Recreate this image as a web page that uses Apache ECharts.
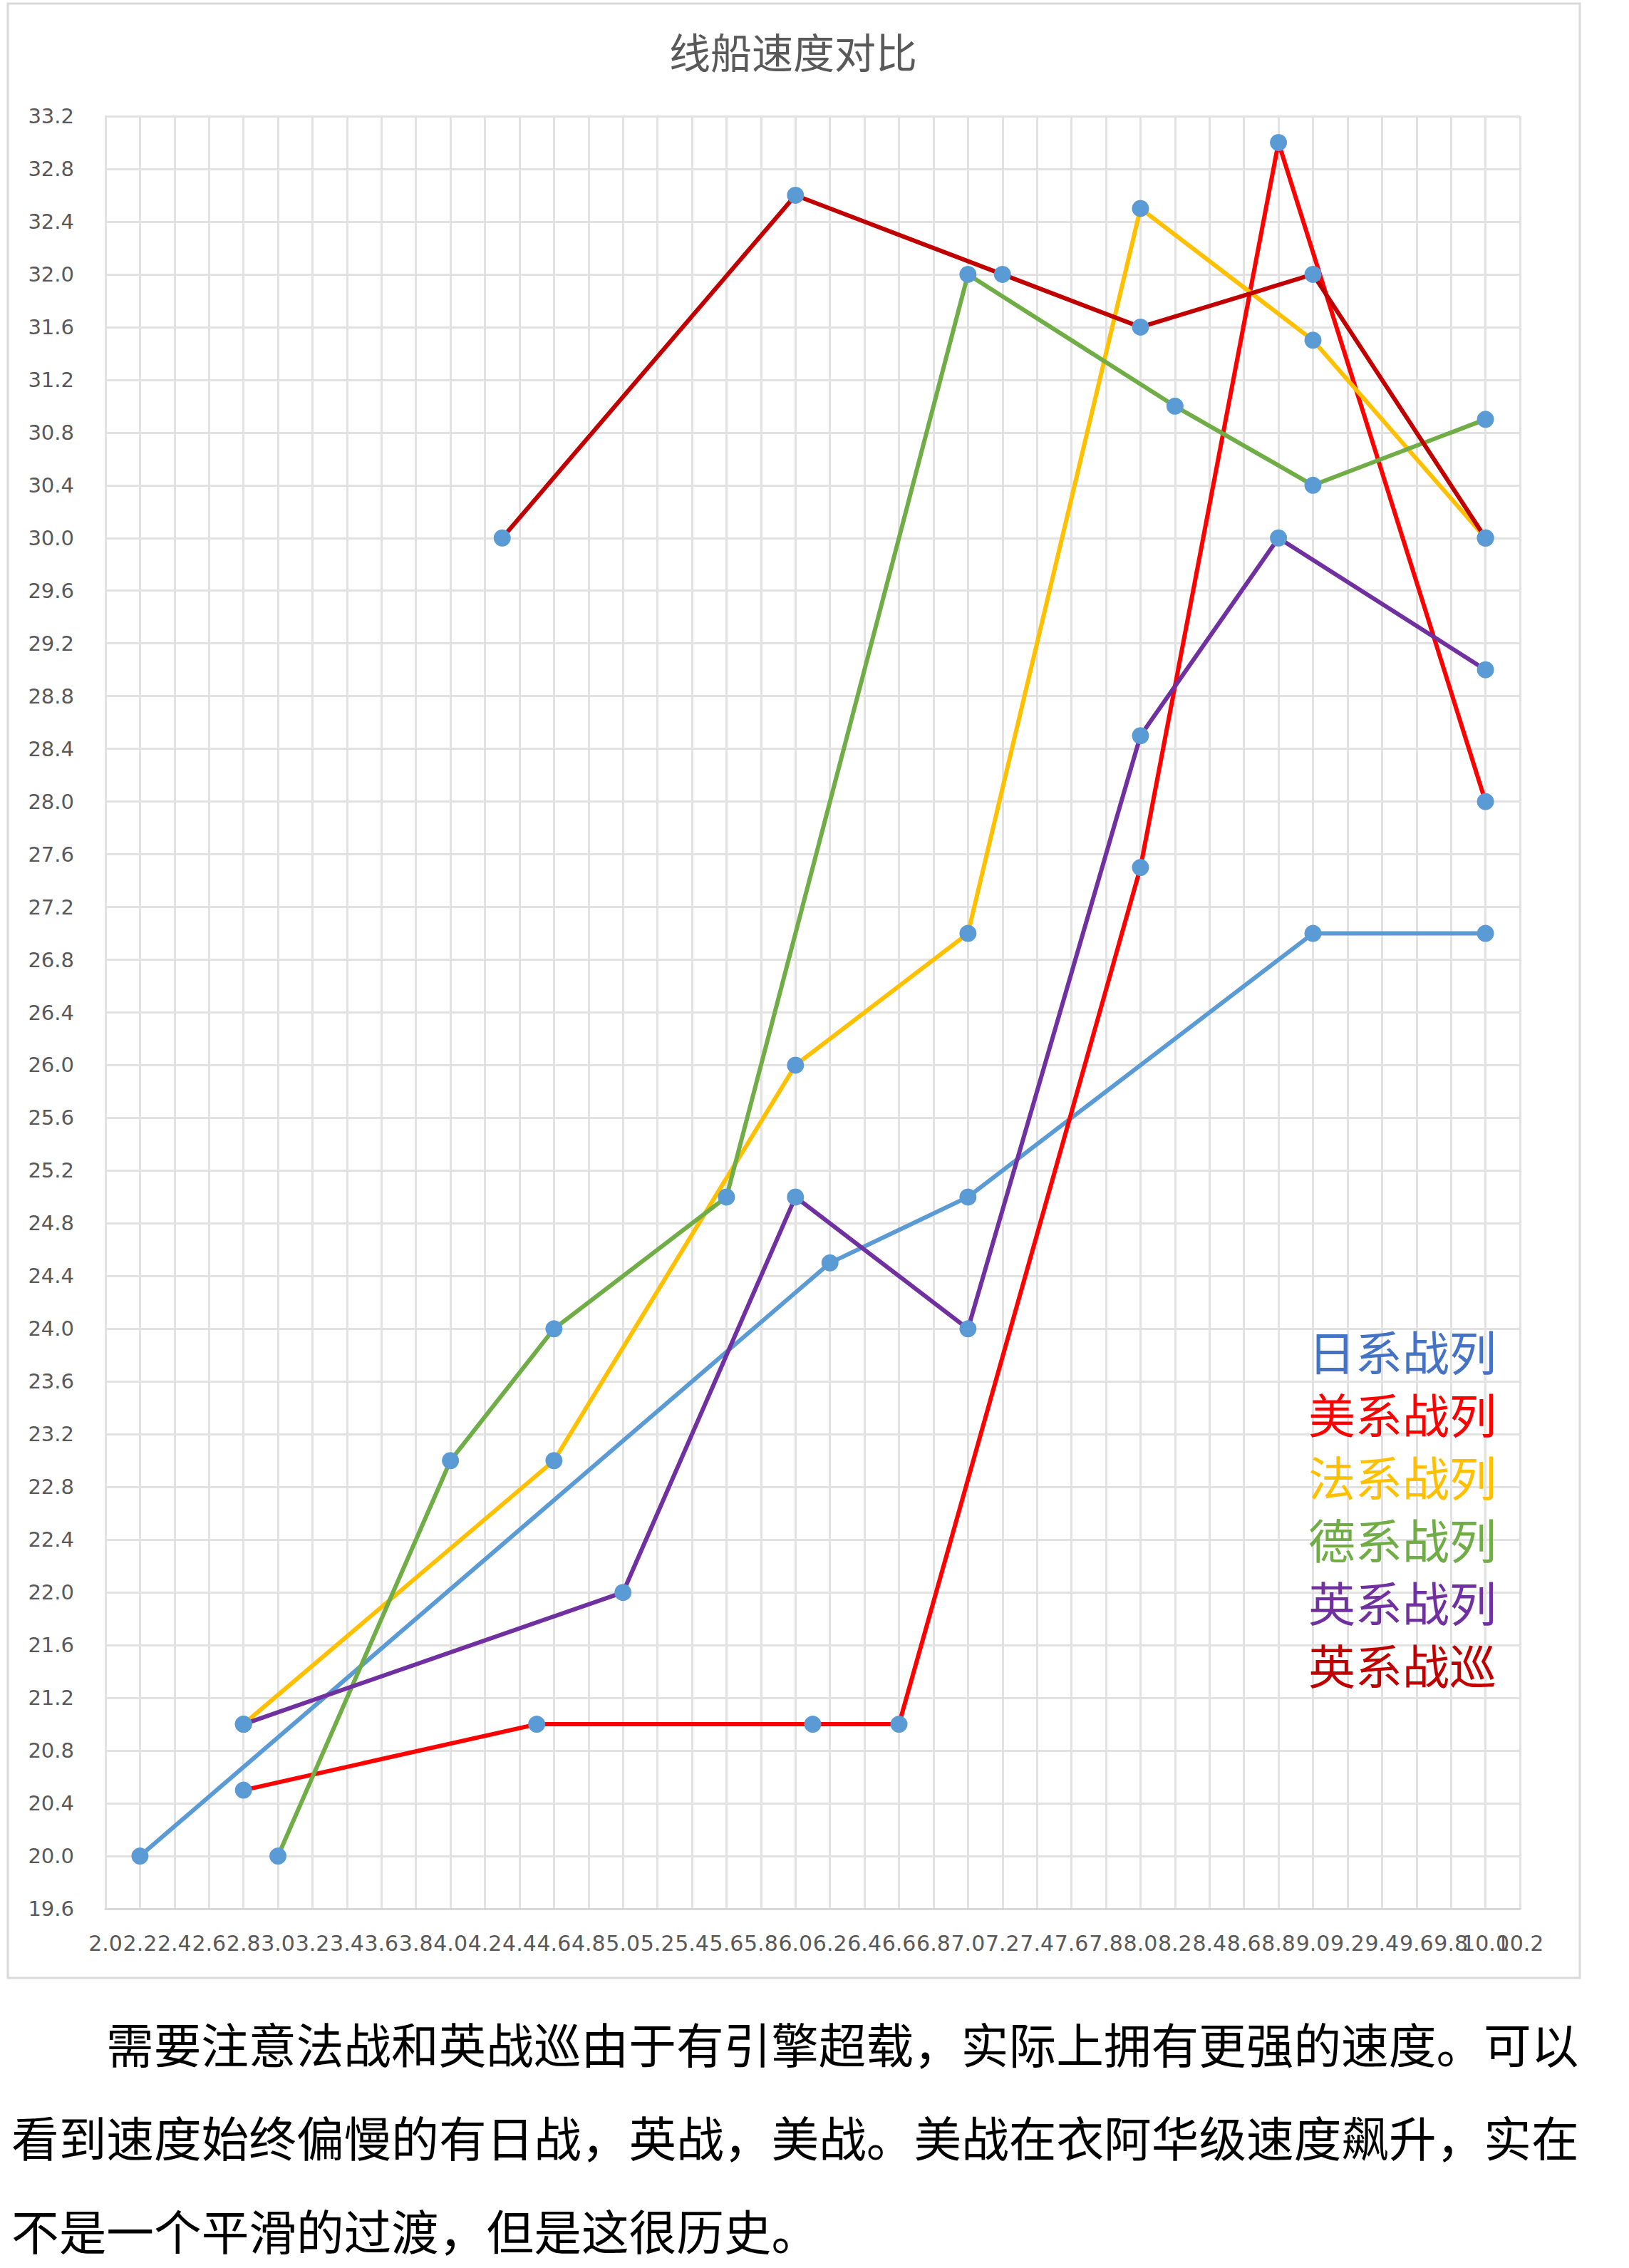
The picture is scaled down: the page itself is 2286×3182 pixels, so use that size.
<!DOCTYPE html>
<html>
<head>
<meta charset="utf-8">
<script src="https://cdn.jsdelivr.net/npm/echarts@6/dist/echarts.min.js"></script>
<style>
  html, body { margin: 0; padding: 0; background: #fff; }
  body { width: 2286px; height: 3182px; position: relative; overflow: hidden; }
  #chart { position: absolute; left: 0; top: 0; width: 2226px; height: 2790px; }
  #para { position: absolute; left: 16px; top: 2801px; font-family: "Noto Sans CJK SC", sans-serif;
          font-size: 66.67px; line-height: 131px; color: #000; white-space: nowrap; }
</style>
</head>
<body>
<div id="chart"></div>
<div id="para"><span style="padding-left:133px"></span>需要注意法战和英战巡由于有引擎超载，实际上拥有更强的速度。可以<br>看到速度始终偏慢的有日战，英战，美战。美战在衣阿华级速度飙升，实在<br>不是一个平滑的过渡，但是这很历史。</div>
<script>
// ---- data ----
const titleText = '线船速度对比';
const seriesNames = ['日系战列', '美系战列', '法系战列', '德系战列', '英系战列', '英系战巡'];

const jpX = [2.2, 6.2, 7.0, 9.0, 10.0];
const jpY = [20.0, 24.5, 25.0, 27.0, 27.0];

const usX = [2.8, 4.5, 6.1, 6.6, 8.0, 8.8, 10.0];
const usY = [20.5, 21.0, 21.0, 21.0, 27.5, 33.0, 28.0];

const frX = [2.8, 4.6, 6.0, 7.0, 8.0, 9.0, 10.0];
const frY = [21.0, 23.0, 26.0, 27.0, 32.5, 31.5, 30.0];

const deX = [3.0, 4.0, 4.6, 5.6, 7.0, 8.2, 9.0, 10.0];
const deY = [20.0, 23.0, 24.0, 25.0, 32.0, 31.0, 30.4, 30.9];

const ukX = [2.8, 5.0, 6.0, 7.0, 8.0, 8.8, 10.0];
const ukY = [21.0, 22.0, 25.0, 24.0, 28.5, 30.0, 29.0];

const ukbcX = [4.3, 6.0, 7.2, 8.0, 9.0, 10.0];
const ukbcY = [30.0, 32.6, 32.0, 31.6, 32.0, 30.0];

const xMin = 2.0, xMax = 10.2, xStep = 0.2;
const yMin = 19.6, yMax = 33.2, yStep = 0.4;

// ---- styles ----
const lineColors = ['#5B9BD5', '#FF0000', '#FFC000', '#70AD47', '#7030A0', '#C00000'];
const legendColors = ['#4472C4', '#FF0000', '#FFC000', '#70AD47', '#7030A0', '#C00000'];
const markerColor = '#5B9BD5';
const gridColor = '#E2E2E2';
const labelStyle = { color: '#595959', fontFamily: '"DejaVu Sans", sans-serif', fontSize: 30, margin: 33 };

const xs = [jpX, usX, frX, deX, ukX, ukbcX];
const ys = [jpY, usY, frY, deY, ukY, ukbcY];

const chart = echarts.init(document.getElementById('chart'), null, { renderer: 'svg' });

const series = seriesNames.map((name, i) => ({
  name: name,
  type: 'line',
  xAxisIndex: 0,
  data: xs[i].map((x, k) => [x, ys[i][k]]),
  symbol: 'circle',
  symbolSize: 24,
  showAllSymbol: true,
  itemStyle: { color: markerColor, borderWidth: 0 },
  lineStyle: { color: lineColors[i], width: 6 },
  emphasis: { disabled: true },
  animation: false
}));

chart.setOption({
  animation: false,
  backgroundColor: 'transparent',
  title: {
    text: titleText,
    left: 'center',
    top: 37,
    textStyle: { fontFamily: '"Noto Sans CJK SC", sans-serif', fontSize: 58, fontWeight: 'normal', color: '#595959' }
  },
  graphic: [{
    type: 'rect',
    shape: { x: 11, y: 5, width: 2206, height: 2770 },
    style: { fill: 'none', stroke: '#D9D9D9', lineWidth: 3 },
    silent: true, z: -10
  }],
  legend: {
    orient: 'vertical',
    left: 1826,
    top: 1845,
    icon: 'none',
    itemWidth: 0,
    itemHeight: 0,
    itemGap: 0,
    selectedMode: false,
    data: seriesNames.map((n, i) => ({ name: n, textStyle: { color: legendColors[i] } })),
    textStyle: { fontFamily: '"Noto Sans CJK SC", sans-serif', fontSize: 66, lineHeight: 88 }
  },
  grid: { left: 148, top: 163, right: 93, bottom: 112, containLabel: false },
  xAxis: [{
    type: 'value',
    position: 'bottom',
    min: xMin, max: xMax, interval: xStep,
    axisLine: { show: true, lineStyle: { color: '#D9D9D9', width: 3 } },
    axisTick: { show: false },
    splitLine: { show: true, lineStyle: { color: gridColor, width: 3 } },
    axisLabel: Object.assign({}, labelStyle, {
      showMinLabel: true, showMaxLabel: false, hideOverlap: false,
      formatter: v => v.toFixed(1)
    })
  }, {
    // same scale, only carries the last tick label that the first axis drops on overlap
    type: 'value',
    position: 'bottom',
    min: xMin, max: xMax, interval: xStep,
    axisLine: { show: false },
    axisTick: { show: false },
    splitLine: { show: false },
    axisLabel: Object.assign({}, labelStyle, {
      showMinLabel: false, showMaxLabel: true, hideOverlap: false,
      formatter: v => (Math.abs(v - xMax) < 1e-6 ? v.toFixed(1) : '')
    })
  }],
  yAxis: {
    type: 'value',
    min: yMin, max: yMax, interval: yStep,
    axisLine: { show: true, lineStyle: { color: gridColor, width: 3 } },
    axisTick: { show: false },
    splitLine: { show: true, lineStyle: { color: gridColor, width: 3 } },
    axisLabel: {
      color: '#595959', fontFamily: '"DejaVu Sans", sans-serif', fontSize: 29, margin: 44,
      showMinLabel: true, showMaxLabel: true,
      formatter: v => v.toFixed(1)
    }
  },
  series: series
});
</script>
</body>
</html>
